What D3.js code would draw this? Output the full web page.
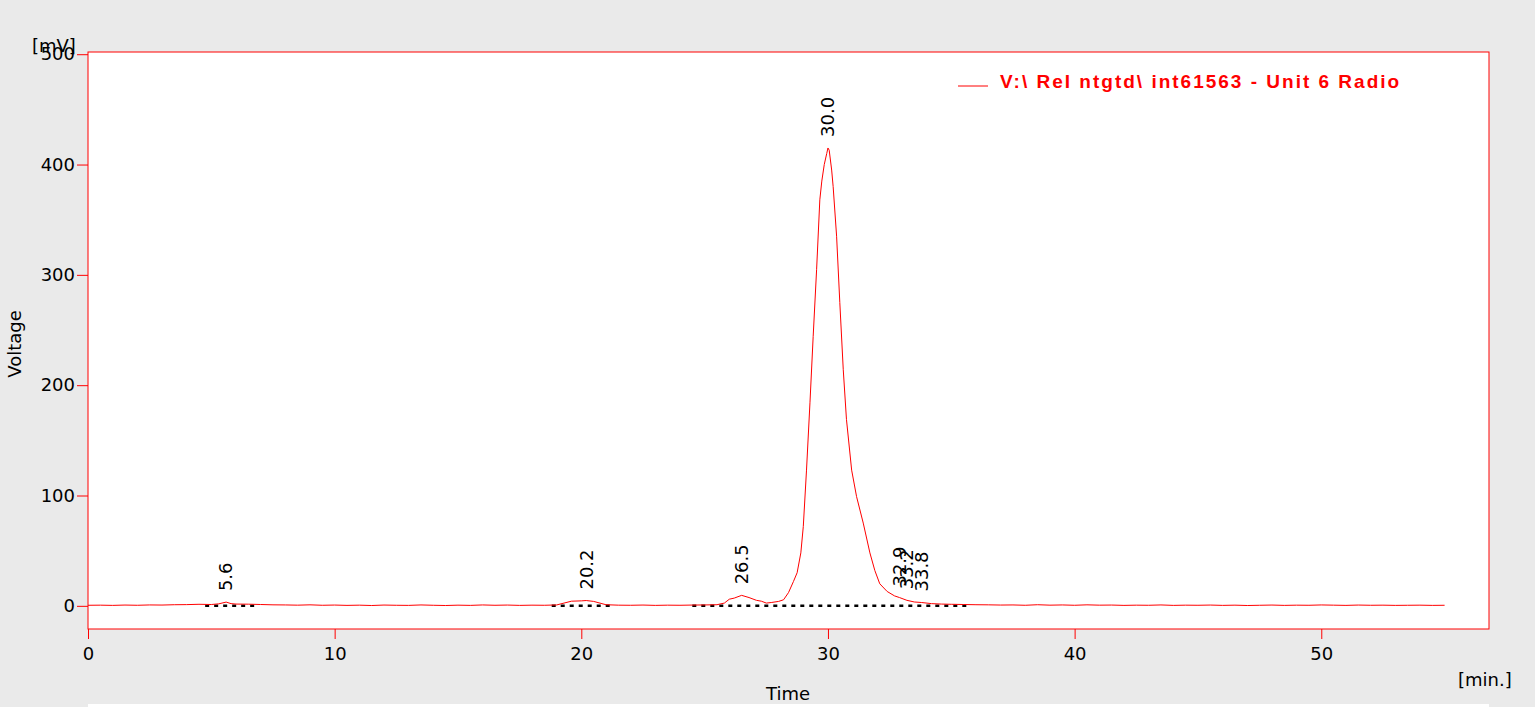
<!DOCTYPE html>
<html>
<head>
<meta charset="utf-8">
<script src="https://cdn.jsdelivr.net/npm/d3@7"></script>
<style>
  body { margin: 0; background: #eaeaea; }
  text { font-family: "DejaVu Sans", Verdana, sans-serif; }
</style>
</head>
<body>
<div id="chart-container"></div>
<script>
// chromatogram values
const times = [0, 0.5, 1, 1.5, 2, 2.5, 3, 3.5, 4, 4.5, 5, 5.3, 5.6, 5.8, 6, 6.5, 7, 7.5, 8, 8.5,
  9, 9.5, 10, 10.5, 11, 11.5, 12, 12.5, 13, 13.5, 14, 14.5, 15, 15.5, 16, 16.5, 17, 17.5, 18, 18.5,
  19, 19.3, 19.6, 20, 20.2, 20.5, 20.8, 21, 21.5, 22, 22.5, 23, 23.5, 24, 24.5, 25, 25.5, 25.8,
  26, 26.2, 26.5, 26.8, 27.1, 27.3, 27.5, 27.7, 28, 28.2, 28.4, 28.6, 28.75, 28.9, 29, 29.13,
  29.27, 29.4, 29.54, 29.67, 29.75, 29.85, 29.95, 30, 30.05, 30.15, 30.21, 30.35, 30.48, 30.62,
  30.75, 30.96, 31.16, 31.43, 31.7, 31.9, 32.1, 32.4, 32.7, 32.9, 33.2, 33.5, 33.8, 34.2, 34.6,
  35, 35.5, 36, 36.5, 37, 37.5, 38, 38.5, 39, 39.5, 40, 40.5, 41, 41.5, 42, 42.5, 43, 43.5, 44,
  44.5, 45, 45.5, 46, 46.5, 47, 47.5, 48, 48.5, 49, 49.5, 50, 50.5, 51, 51.5, 52, 52.5, 53, 53.5,
  54, 54.5, 55];
const voltage = [0.5, 0.6, 0.4, 0.7, 0.5, 0.8, 0.7, 1.0, 1.1, 1.4, 1.2, 1.8, 3.4, 2.0, 1.6, 1.5, 1.2, 0.9, 0.8, 0.6,
  0.9, 0.5, 0.7, 0.4, 0.6, 0.3, 0.7, 0.5, 0.4, 0.8, 0.5, 0.3, 0.6, 0.4, 0.8, 0.5, 0.7, 0.4, 0.6, 0.5,
  0.8, 2.5, 4.2, 4.5, 4.8, 4.0, 2.2, 1.0, 0.6, 0.5, 0.7, 0.4, 0.6, 0.5, 0.7, 0.8, 1.0, 2.5,
  6.0, 7.0, 9.5, 7.5, 5.0, 4.2, 2.5, 3.0, 4.0, 5.5, 12, 22, 30, 48, 72, 123,
  184, 244, 305, 368, 385, 400, 410, 415, 413, 395, 380, 335, 275, 214,
  169, 123, 99, 75, 48, 32, 20, 13, 9, 7.5, 5, 3.5, 3.0, 2.0, 1.6,
  1.4, 1.2, 1.0, 0.9, 0.7, 0.8, 0.5, 1.0, 0.6, 0.8, 0.5, 0.9, 0.6, 0.7, 0.4, 0.6, 0.5, 0.8, 0.4,
  0.6, 0.5, 0.7, 0.4, 0.6, 0.3, 0.5, 0.7, 0.4, 0.6, 0.5, 0.8, 0.6, 0.4, 0.7, 0.5, 0.6, 0.4, 0.5,
  0.6, 0.4, 0.5];

// peak labels (retention time, apex value)
const peakTimes = [5.6, 20.2, 26.5, 30.0, 32.9, 33.2, 33.8];
const peakValues = [3.4, 4.8, 9.5, 415, 7.5, 5, 3.0];

// integration baselines [start, end]
const baselineStarts = [4.75, 18.8, 24.5];
const baselineEnds = [6.9, 21.2, 35.8];

const xTicks = [0, 10, 20, 30, 40, 50];
const yTicks = [0, 100, 200, 300, 400, 500];
const legendLabel = "V:\\ ReI ntgtd\\ int61563 - Unit 6 Radio";

const width = 1535, height = 707;
const plot = { left: 88, right: 1489, top: 52, bottom: 629 };

const svg = d3.select("#chart-container")
    .append("svg")
    .attr("width", width)
    .attr("height", height);

svg.append("rect")
    .attr("width", width).attr("height", height)
    .attr("fill", "#eaeaea");

// thin white strip along the bottom edge
svg.append("rect")
    .attr("x", plot.left).attr("y", 704)
    .attr("width", plot.right - plot.left).attr("height", 3)
    .attr("fill", "#ffffff");

const x = d3.scaleLinear().domain([0, 56.8]).range([plot.left, plot.right]);
const y = d3.scaleLinear().domain([-21, 502]).range([plot.bottom, plot.top]);

svg.append("rect")
    .attr("x", plot.left).attr("y", plot.top)
    .attr("width", plot.right - plot.left).attr("height", plot.bottom - plot.top)
    .attr("fill", "#ffffff")
    .attr("stroke", "#ff0000")
    .attr("stroke-width", 1);

// axes
const xAxis = svg.append("g")
    .attr("transform", `translate(0,${plot.bottom})`)
    .call(d3.axisBottom(x).tickValues(xTicks).tickSize(10).tickPadding(8).tickFormat(d3.format("d")));
const yAxis = svg.append("g")
    .attr("transform", `translate(${plot.left},0)`)
    .call(d3.axisLeft(y).tickValues(yTicks).tickSize(11).tickPadding(2).tickFormat(d3.format("d")));

[xAxis, yAxis].forEach(g => {
    g.select(".domain").remove();
    g.selectAll(".tick line").attr("stroke", "#ff0000");
    g.selectAll(".tick text")
        .attr("fill", "#000")
        .style("font-size", "18px")
        .style("font-family", "'DejaVu Sans', Verdana, sans-serif");
});

// baselines
baselineStarts.forEach((s, i) => {
    svg.append("line")
        .attr("x1", x(s)).attr("x2", x(baselineEnds[i]))
        .attr("y1", y(0)).attr("y2", y(0))
        .attr("stroke", "#000")
        .attr("stroke-width", 2.5)
        .attr("stroke-dasharray", "4,5");
});

// signal
const line = d3.line()
    .x((d, i) => x(times[i]))
    .y(d => y(d));

svg.append("path")
    .datum(voltage)
    .attr("d", line)
    .attr("fill", "none")
    .attr("stroke", "#ff0000")
    .attr("stroke-width", 1);

// peak labels
peakTimes.forEach((t, i) => {
    const px = x(t), py = y(peakValues[i]) - 11;
    svg.append("text")
        .attr("transform", `translate(${px},${py}) rotate(-90)`)
        .attr("dy", "0.35em")
        .style("font-size", "18px")
        .attr("fill", "#000")
        .text(t.toFixed(1));
});

// axis titles
svg.append("text")
    .attr("x", 32).attr("y", 52)
    .style("font-size", "18px")
    .text("[mV]");
svg.append("text")
    .attr("x", 1458).attr("y", 686)
    .style("font-size", "18px")
    .text("[min.]");
svg.append("text")
    .attr("x", 788).attr("y", 700)
    .attr("text-anchor", "middle")
    .style("font-size", "18px")
    .text("Time");
svg.append("text")
    .attr("transform", "translate(21,344) rotate(-90)")
    .attr("text-anchor", "middle")
    .style("font-size", "18px")
    .text("Voltage");

// legend
svg.append("line")
    .attr("x1", 958).attr("x2", 988)
    .attr("y1", 86).attr("y2", 86)
    .attr("stroke", "#ff0000")
    .attr("stroke-width", 1);
svg.append("text")
    .attr("x", 1000).attr("y", 88)
    .attr("fill", "#ff0000")
    .style("font-family", "'Liberation Sans', Arial, sans-serif")
    .style("font-weight", "bold")
    .style("font-size", "19px")
    .style("letter-spacing", "2px")
    .text(legendLabel);
</script>
</body>
</html>
